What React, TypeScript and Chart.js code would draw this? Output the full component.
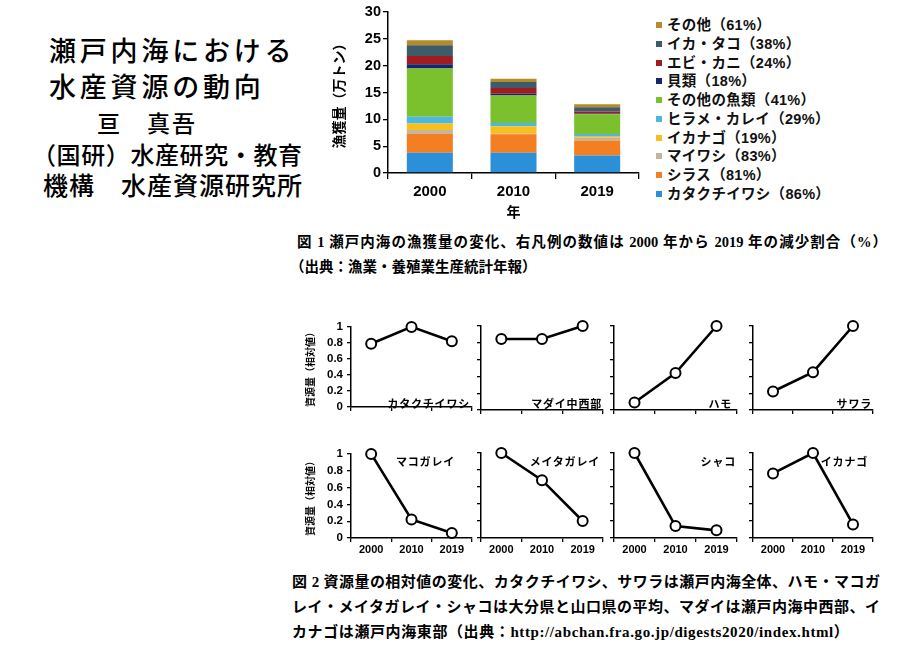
import React, { useEffect, useRef } from 'react';
import { Chart, registerables } from 'chart.js';

Chart.register(...registerables);

// ---------------- data ----------------
const years = ['2000', '2010', '2019'];

const speciesNames = [
  'カタクチイワシ', 'シラス', 'マイワシ', 'イカナゴ', 'ヒラメ・カレイ',
  'その他の魚類', '貝類', 'エビ・カニ', 'イカ・タコ', 'その他',
];
// numbers printed in the legend (%)
const legendPct = [86, 81, 83, 19, 29, 41, 18, 24, 38, 61];

// catch (万トン) for 2000, 2010, 2019
const katakuchiCatch = [3.78, 3.76, 3.25];
const shirasuCatch = [3.47, 3.47, 2.81];
const maiwashiCatch = [0.74, 0.1, 0.61];
const ikanagoCatch = [1.24, 1.36, 0.24];
const hirameCatch = [1.24, 0.62, 0.36];
const otherFishCatch = [8.99, 5.15, 3.69];
const shellCatch = [0.81, 0.31, 0.15];
const ebiCatch = [1.55, 1.05, 0.37];
const ikaCatch = [1.98, 1.12, 0.75];
const otherCatch = [0.93, 0.62, 0.57];

const catchSeries = [
  katakuchiCatch, shirasuCatch, maiwashiCatch, ikanagoCatch, hirameCatch,
  otherFishCatch, shellCatch, ebiCatch, ikaCatch, otherCatch,
];

const yTicksCatch = { min: 0, max: 30, step: 5 };

// relative stock (相対値) for 2000, 2010, 2019
const panelNames = ['カタクチイワシ', 'マダイ中西部', 'ハモ', 'サワラ', 'マコガレイ', 'メイタガレイ', 'シャコ', 'イカナゴ'];
const katakuchiRel = [0.79, 1.0, 0.82];
const madaiRel = [0.845, 0.845, 1.0];
const hamoRel = [0.09, 0.44, 1.0];
const sawaraRel = [0.22, 0.45, 1.0];
const makogareiRel = [1.0, 0.22, 0.06];
const meitagareiRel = [1.0, 0.68, 0.2];
const shakoRel = [1.0, 0.14, 0.09];
const ikanagoRel = [0.76, 1.0, 0.16];
const panelSeries = [katakuchiRel, madaiRel, hamoRel, sawaraRel, makogareiRel, meitagareiRel, shakoRel, ikanagoRel];

// ---------------- styles / layout ----------------
const speciesColors = [
  '#2b8fd9', '#f47e22', '#c4b69c', '#f9bf1c', '#4cb7e3',
  '#7bc12d', '#17256b', '#a01c20', '#3d5c6a', '#b88a2a',
];

const FONT_SANS = '"Liberation Sans", "Noto Sans CJK JP", sans-serif';
const FONT_CJK = '"Noto Sans CJK JP", sans-serif';
const FONT_CAPTION = '"Liberation Serif", "Noto Sans CJK JP", serif';

Chart.defaults.font.family = FONT_SANS;
Chart.defaults.color = '#000';

const PANEL_AXIS_X = [351, 481, 614, 753];
const PANEL_PLOT_W = [121, 122, 123, 120];
const ROW_PLOT_TOP = [326, 453];
const ROW_PLOT_BOTTOM = [410, 538];
const LABEL_RIGHT_INSET = [[2, 1, 5, 1], [17, 3, 1, 5]];
const LABEL_CENTER_Y = [403, 461];

function BarChart() {
  const ref = useRef<HTMLCanvasElement>(null);
  useEffect(() => {
    const chart = new Chart(ref.current as HTMLCanvasElement, {
      type: 'bar',
      data: {
        labels: years,
        datasets: catchSeries.map((vals, i) => ({
          label: speciesNames[i],
          data: vals,
          backgroundColor: speciesColors[i],
          borderWidth: 0,
          barPercentage: 0.55,
          categoryPercentage: 1,
        })),
      },
      options: {
        animation: false,
        responsive: true,
        maintainAspectRatio: false,
        layout: { padding: { top: 12, right: 3, left: 0, bottom: 0 } },
        plugins: { legend: { display: false }, tooltip: { enabled: false } },
        scales: {
          x: {
            stacked: true,
            offset: true,
            grid: { offset: true, drawOnChartArea: false, tickLength: 6, color: '#000', lineWidth: 1.3 },
            border: { color: '#000', width: 1.5 },
            ticks: { color: '#000', font: { size: 15, weight: 'bold' }, padding: 4 },
            title: { display: true, text: '年', color: '#000', font: { size: 14, weight: 'bold', family: FONT_CJK }, padding: 0 },
            afterFit: (s: any) => { s.height = 47; },
          },
          y: {
            stacked: true,
            min: yTicksCatch.min,
            max: yTicksCatch.max,
            ticks: { stepSize: yTicksCatch.step, color: '#000', font: { size: 14.5, weight: 'bold' }, padding: 2 },
            grid: { drawOnChartArea: false, tickLength: 5, color: '#000', lineWidth: 1.3 },
            border: { color: '#000', width: 1.5 },
            title: { display: true, text: '漁獲量（万トン）', color: '#000', font: { size: 14, weight: 'bold', family: FONT_CJK }, padding: 0 },
            afterFit: (s: any) => { s.width = 58; },
          },
        },
      } as any,
    });
    return () => chart.destroy();
  }, []);
  return (
    <div style={{ position: 'absolute', left: 330, top: 0, width: 312, height: 220 }}>
      <canvas ref={ref} />
    </div>
  );
}

function Panel({ idx }: { idx: number }) {
  const ref = useRef<HTMLCanvasElement>(null);
  const row = Math.floor(idx / 4);
  const col = idx % 4;
  const yW = col === 0 ? 47 : 8;
  const padTop = 10;
  const padRight = 7;
  const xH = row === 1 ? 20 : 8;
  const plotTop = ROW_PLOT_TOP[row];
  const plotBottom = ROW_PLOT_BOTTOM[row];
  const axisX = PANEL_AXIS_X[col];
  const plotW = PANEL_PLOT_W[col];
  const left = axisX - yW;
  const top = plotTop - padTop;
  const width = yW + plotW + padRight;
  const height = padTop + (plotBottom - plotTop) + xH;

  useEffect(() => {
    const chart = new Chart(ref.current as HTMLCanvasElement, {
      type: 'line',
      data: {
        labels: years,
        datasets: [{
          data: panelSeries[idx],
          borderColor: '#000',
          borderWidth: 2.6,
          pointRadius: 5,
          pointBorderWidth: 2,
          pointBackgroundColor: '#fff',
          pointBorderColor: '#000',
          clip: false,
          tension: 0,
        }],
      },
      options: {
        animation: false,
        responsive: true,
        maintainAspectRatio: false,
        layout: { padding: { top: padTop, right: padRight, left: 0, bottom: 0 } },
        plugins: { legend: { display: false }, tooltip: { enabled: false } },
        scales: {
          x: {
            type: 'category',
            offset: true,
            grid: { offset: true, drawOnChartArea: false, tickLength: 4, color: '#000', lineWidth: 1.3 },
            border: { color: '#000', width: 1.5 },
            ticks: { display: row === 1, color: '#000', font: { size: 11, weight: 'bold' }, padding: 1 },
            afterFit: (s: any) => { s.height = xH; },
          },
          y: {
            min: 0,
            max: 1,
            ticks: {
              display: col === 0,
              stepSize: 0.2,
              color: '#000',
              font: { size: 11.5, weight: 'bold' },
              padding: 4,
              callback: (v: any) => String(Math.round(Number(v) * 10) / 10),
            },
            grid: { drawOnChartArea: false, tickLength: 4, color: '#000', lineWidth: 1.3 },
            border: { color: '#000', width: 1.5 },
            title: {
              display: col === 0,
              text: '資源量（相対値）',
              color: '#000',
              font: { size: 10, weight: 'bold', family: FONT_CJK },
              padding: 0,
            },
            afterFit: (s: any) => { s.width = yW; },
          },
        },
      } as any,
    });
    return () => chart.destroy();
  }, []);

  const plotRight = axisX + plotW;
  const labelRight = plotRight - LABEL_RIGHT_INSET[row][col];
  return (
    <>
      <div style={{ position: 'absolute', left, top, width, height }}>
        <canvas ref={ref} />
      </div>
      <div
        style={{
          position: 'absolute', left: labelRight - 200, width: 200, top: LABEL_CENTER_Y[row] - 8,
          height: 16, lineHeight: '16px', textAlign: 'right', fontFamily: FONT_CJK,
          fontWeight: 700, fontSize: 11, letterSpacing: 0.8, color: '#000', whiteSpace: 'nowrap',
        }}
      >
        {panelNames[idx]}
      </div>
    </>
  );
}

function Legend() {
  const order = speciesNames.map((_, i) => i).reverse();
  return (
    <>
      {order.map((i, k) => (
        <div
          key={i}
          style={{
            position: 'absolute', left: 656, top: 25 + k * 18.75 - 9, height: 18, lineHeight: '18px',
            fontFamily: FONT_SANS, fontWeight: 700, fontSize: 14.5, letterSpacing: 0.3, color: '#111', whiteSpace: 'nowrap',
          }}
        >
          <span style={{ display: 'inline-block', width: 6, height: 6, background: speciesColors[i], marginRight: 5, verticalAlign: 'middle', position: 'relative', top: -1 }} />
          {speciesNames[i]}（{legendPct[i]}%）
        </div>
      ))}
    </>
  );
}

function TextLine({ text, left, cy, size, ls = 0, weight = 500, family = FONT_CJK, width, justify }: any) {
  return (
    <div
      style={{
        position: 'absolute', left, top: cy - size * 0.6, height: size * 1.2, lineHeight: `${size * 1.2}px`,
        fontSize: size, letterSpacing: ls, fontWeight: weight, fontFamily: family, color: '#000',
        whiteSpace: justify ? 'normal' : 'nowrap', width: width, textAlign: justify ? 'justify' : 'left',
        textAlignLast: justify ? 'justify' : 'auto', overflow: 'visible',
      } as any}
    >
      {text}
    </div>
  );
}

export default function App() {
  return (
    <div lang="ja" style={{ position: 'absolute', left: 0, top: 0, width: 900, height: 652, background: '#fff', overflow: 'hidden' }}>
      <TextLine text="瀬戸内海における" left={49} cy={50} size={27} ls={3.8} />
      <TextLine text="水産資源の動向" left={49} cy={86} size={27} ls={3.8} />
      <TextLine text="亘　真吾" left={97} cy={123} size={23} ls={2} />
      <TextLine text="（国研）水産研究・教育" left={32} cy={154} size={24} ls={0.6} />
      <TextLine text="機構　水産資源研究所" left={43} cy={184} size={25} ls={1} />

      <BarChart />
      <Legend />

      <TextLine text="図 1 瀬戸内海の漁獲量の変化、右凡例の数値は 2000 年から 2019 年の減少割合（%）" left={297} cy={243} size={14.5} weight={700} family={FONT_CAPTION} width={590} justify />
      <TextLine text="（出典：漁業・養殖業生産統計年報）" left={290} cy={268} size={14.5} weight={700} family={FONT_CAPTION} />

      {panelNames.map((_, i) => <Panel key={i} idx={i} />)}

      <TextLine text="図 2 資源量の相対値の変化、カタクチイワシ、サワラは瀬戸内海全体、ハモ・マコガ" left={292} cy={582} size={15} weight={700} family={FONT_CAPTION} width={588} justify />
      <TextLine text="レイ・メイタガレイ・シャコは大分県と山口県の平均、マダイは瀬戸内海中西部、イ" left={292} cy={607} size={15} weight={700} family={FONT_CAPTION} width={588} justify />
      <TextLine text="カナゴは瀬戸内海東部（出典：http://abchan.fra.go.jp/digests2020/index.html）" left={292} cy={632} size={15} weight={700} family={FONT_CAPTION} ls={0.6} />
    </div>
  );
}
